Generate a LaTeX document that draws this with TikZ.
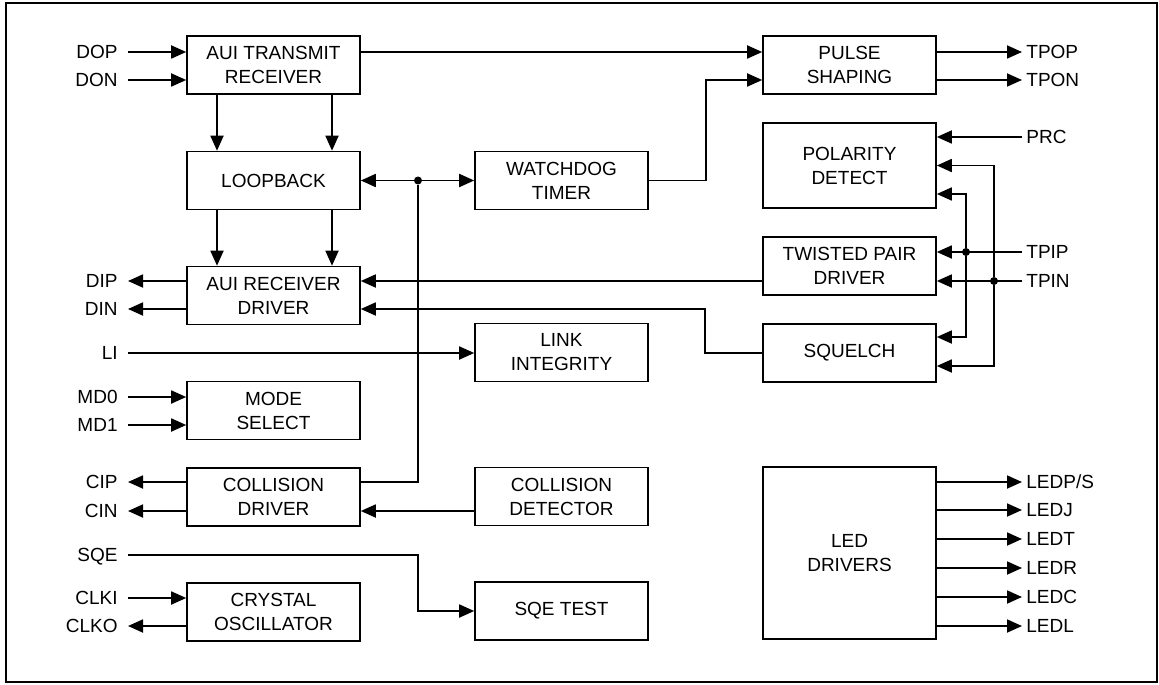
\documentclass[tikz,border=0pt]{standalone}
\usepackage{fontspec}
\setmainfont{Liberation Sans}
\usetikzlibrary{arrows.meta}

\begin{document}
\begin{tikzpicture}[x=0.5pt,y=-0.5pt,
  font=\fontsize{9.5}{12}\selectfont,
  block/.style={draw, line width=0.8pt, minimum width=86.5pt, minimum height=29pt, align=center, inner sep=1pt},
  pinl/.style={anchor=east, inner xsep=5pt, inner ysep=0pt, text height=6.8pt, text depth=0pt},
  pinr/.style={anchor=west, inner xsep=2pt, inner ysep=0pt, text height=6.8pt, text depth=0pt},
  dot/.style={circle, fill, inner sep=0pt, minimum size=4pt},
  wire/.style={draw, line width=0.9pt},
  sig/.style={wire, -{Triangle[length=7.5pt,width=6.5pt]}},
]
\useasboundingbox (0,0) rectangle (1159,684);
\path[draw,line width=0.8pt] (6,3) rectangle (1157,682);

% blocks
\node[block] (tx) at (273.5,65) {AUI TRANSMIT\\RECEIVER};
\node[block] (loop) at (273.5,180.5) {LOOPBACK};
\node[block] (rxd) at (273.5,295.5) {AUI RECEIVER\\DRIVER};
\node[block] (mode) at (273.5,410.5) {MODE\\SELECT};
\node[block] (cold) at (273.5,497) {COLLISION\\DRIVER};
\node[block] (xtal) at (273.5,612) {CRYSTAL\\OSCILLATOR};
\node[block] (wdt) at (561.5,180.5) {WATCHDOG\\TIMER};
\node[block] (link) at (561.5,352.5) {LINK\\INTEGRITY};
\node[block] (cdet) at (561.5,496.5) {COLLISION\\DETECTOR};
\node[block] (sqet) at (561.5,611) {SQE TEST};
\node[block] (pulse) at (849.5,65) {PULSE\\SHAPING};
\node[block,minimum height=42.5pt] (pol) at (849.5,165.5) {POLARITY\\DETECT};
\node[block] (tpd) at (849.5,266) {TWISTED PAIR\\DRIVER};
\node[block] (sq) at (849.5,353) {SQUELCH};
\node[block,minimum height=86pt] (leddrv) at (849.5,553) {LED\\DRIVERS};

% pins
\node[pinl] (dop) at (128,52) {DOP};
\node[pinl] (don) at (128,80) {DON};
\node[pinl] (dip) at (128,281) {DIP};
\node[pinl] (din) at (128,309) {DIN};
\node[pinl] (li) at (128,353) {LI};
\node[pinl] (md0) at (128,397) {MD0};
\node[pinl] (md1) at (128,425) {MD1};
\node[pinl] (cip) at (128,482) {CIP};
\node[pinl] (cin) at (128,511) {CIN};
\node[pinl] (sqe) at (128,555) {SQE};
\node[pinl] (clki) at (128,598) {CLKI};
\node[pinl] (clko) at (128,626) {CLKO};
\node[pinr] (tpop) at (1022,52) {TPOP};
\node[pinr] (tpon) at (1022,80) {TPON};
\node[pinr] (prc) at (1022,137) {PRC};
\node[pinr] (tpip) at (1022,252) {TPIP};
\node[pinr] (tpin) at (1022,281) {TPIN};

% junctions
\node[dot] (jw) at (418,180.5) {};
\node[dot] (jp) at (966,252) {};
\node[dot] (jn) at (994,281) {};

% transmit side
\path[sig] (dop) -- (dop -| tx.west);
\path[sig] (don) -- (don -| tx.west);
\path[sig] ([xshift=-28.25pt]tx.south) -- ([xshift=-28.25pt]loop.north);
\path[sig] ([xshift=29.25pt]tx.south) -- ([xshift=29.25pt]loop.north);
\path[sig] ([xshift=-28.25pt]loop.south) -- ([xshift=-28.25pt]rxd.north);
\path[sig] ([xshift=29.25pt]loop.south) -- ([xshift=29.25pt]rxd.north);
\path[sig] (dop -| tx.east) -- (dop -| pulse.west);
\path[sig] (wdt.east) -- ++(57,0) |- (tpon -| pulse.west);
\path[sig] (dop -| pulse.east) -- (tpop);
\path[sig] (tpon -| pulse.east) -- (tpon);

% receive side
\path[sig] (prc) -- (prc -| pol.east);
\path[sig] (tpip) -- (tpip -| tpd.east);
\path[sig] (tpin) -- (tpin -| tpd.east);
\path[sig] (jp) |- ([yshift=-14.25pt]pol.east);
\path[sig] (jp) |- ([yshift=8pt]sq.east);
\path[sig] (jn) |- (pol.east);
\path[sig] (jn) |- ([yshift=-6.5pt]sq.east);
\path[sig] (tpin -| tpd.west) -- (tpin -| rxd.east);
\path[sig] (sq.west) -- ++(-57,0) |- (din -| rxd.east);
\path[sig] (dip -| rxd.west) -- (dip);
\path[sig] (din -| rxd.west) -- (din);

% control
\path[sig] (li) -- (li -| link.west);
\path[sig] (md0) -- (md0 -| mode.west);
\path[sig] (md1) -- (md1 -| mode.west);
\path[wire] (cip -| cold.east) -- (jw |- cip) -- (jw);
\path[sig] (jw) -- (loop.east);
\path[sig] (jw) -- (wdt.west);
\path[sig] (cin -| cdet.west) -- (cin -| cold.east);
\path[sig] (cip -| cold.west) -- (cip);
\path[sig] (cin -| cold.west) -- (cin);
\path[sig] (sqe) -- (sqe -| jw) |- (sqet.west);
\path[sig] (clki) -- (clki -| xtal.west);
\path[sig] (clko -| xtal.west) -- (clko);

% led outputs
\foreach \lbl/\y [count=\i] in {{LEDP/S}/482, LEDJ/510, LEDT/539, LEDR/568, LEDC/597, LEDL/626} {
  \node[pinr] (ledo\i) at (1022,\y) {\lbl};
  \path[sig] (ledo\i -| leddrv.east) -- (ledo\i);
}
\end{tikzpicture}
\end{document}
